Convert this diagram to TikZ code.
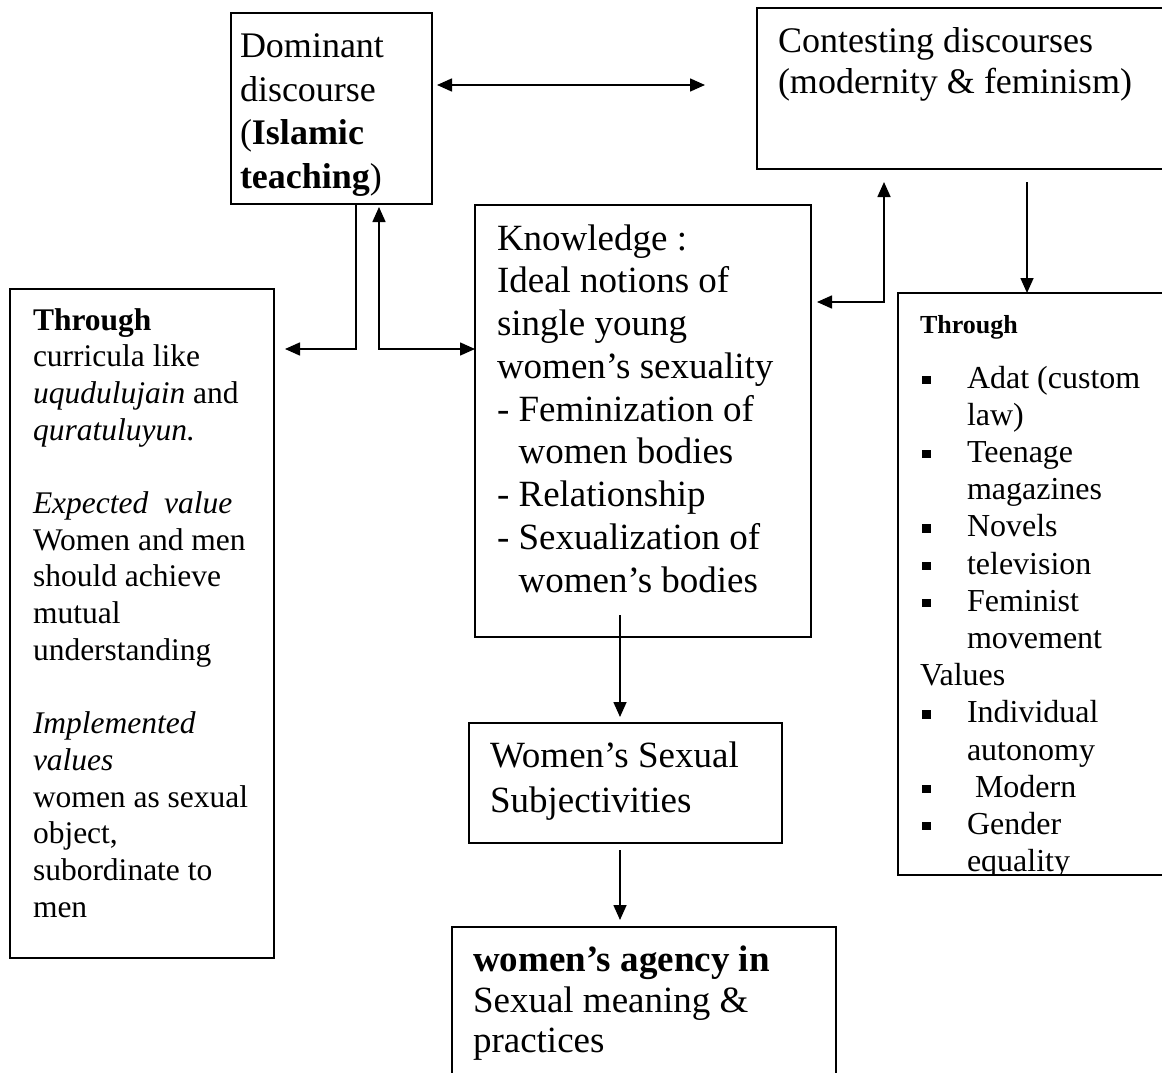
\documentclass[tikz,border=0pt]{standalone}
\usepackage{fontspec}
\setmainfont{Liberation Serif}
\usetikzlibrary{arrows.meta}
\newcommand\rbul{\makebox[47pt][l]{\hspace*{2pt}\rule[4pt]{8.5pt}{8.5pt}}}
\newcommand\rind{\hspace*{47pt}}
\begin{document}
\begin{tikzpicture}[x=1pt,y=-1pt,
  box/.style={draw, line width=1.6pt, inner sep=0pt, outer sep=0pt},
  txt/.style={anchor=north west, inner sep=0pt, outer sep=0pt, align=left},
  conn/.style={line width=1.6pt},
  >={Triangle[length=15pt,width=13pt]}]
\useasboundingbox (0,0) rectangle (1162,1073);
\clip (0,0) rectangle (1162,1073);
% boxes
\node[box, minimum width=201pt, minimum height=191pt] (dom) at (331.5,108.5) {};
\node[box, minimum width=423pt, minimum height=161pt] (con) at (968.5,88.5) {};
\node[box, minimum width=336pt, minimum height=432pt] (know) at (643,421) {};
\node[box, minimum width=264pt, minimum height=669pt] (lbox) at (142,623.5) {};
\node[box, minimum width=282pt, minimum height=582pt] (rbox) at (1039,584) {};
\node[box, minimum width=313pt, minimum height=120pt] (wss) at (625.5,783) {};
\node[box, minimum width=384pt, minimum height=168pt] (agency) at (644,1011) {};
% texts
\node[txt, font=\fontsize{36}{43.5}\selectfont] (domtxt) at (240,27.5)
  {\strut Dominant\\discourse\\(\textbf{Islamic}\\\textbf{teaching})};
\node[txt, font=\fontsize{36}{41}\selectfont] (contxt) at (778,23.3)
  {\strut Contesting discourses\\(modernity \& feminism)};
\node[txt, font=\fontsize{37}{42.75}\selectfont] (knowtxt) at (497,220.1)
  {\strut Knowledge :\\Ideal notions of\\single young\\women’s sexuality\\- Feminization of\\\hspace*{21.6pt}women bodies\\- Relationship\\- Sexualization of\\\hspace*{21.6pt}women’s bodies};
\node[txt, font=\fontsize{37}{45}\selectfont] (wsstxt) at (490,735.5)
  {\strut Women’s Sexual\\Subjectivities};
\node[txt, font=\fontsize{37}{40.5}\selectfont] (agencytxt) at (473,943.6)
  {\strut\textbf{women’s agency in}\\Sexual meaning \&\\practices};
\node[txt, font=\fontsize{31.5}{36.7}\selectfont] (ltxt) at (33,304.3)
  {\strut\textbf{Through}\\curricula like\\\textit{uqudulujain} and\\\textit{quratuluyun.}\\[36.7pt]
   \textit{Expected\ \ value}\\Women and men\\should achieve\\mutual\\understanding\\[36.7pt]
   \textit{Implemented}\\\textit{values}\\women as sexual\\object,\\subordinate to\\men};
\node[txt, font=\fontsize{26}{30}\selectfont] (rthrough) at (920,312)
  {\strut\textbf{Through}};
\begin{scope}
\clip (rbox.north west) rectangle (rbox.south east);
\node[txt, font=\fontsize{32}{37.2}\selectfont] (rtxt) at (920,362)
  {\strut\rbul Adat (custom\\\rind law)\\\rbul Teenage\\\rind magazines\\\rbul Novels\\\rbul television\\\rbul Feminist\\\rind movement\\Values\\\rbul Individual\\\rind autonomy\\\rbul\ Modern\\\rbul Gender\\\rind equality};
\end{scope}
% connectors
\draw[conn, <->] ([shift={(5,-23.5)}]dom.east) -- ([shift={(-52,-3.5)}]con.west);
\draw[conn, ->] ([shift={(24.5,0)}]dom.south) |- ([shift={(11,-274.5)}]lbox.east);
\draw[conn, <->] ([shift={(47.5,3)}]dom.south) |- ([shift={(0,-72)}]know.west);
\draw[conn, <->] ([shift={(6,-119)}]know.east) -| ([shift={(-84.5,13)}]con.south);
\draw[conn, ->] ([shift={(58.5,13)}]con.south) -- ([shift={(-12,0)}]rbox.north);
\draw[conn, ->] ([shift={(-23,-22)}]know.south) -- ([shift={(-5.5,-6)}]wss.north);
\draw[conn, ->] ([shift={(-5.5,7)}]wss.south) -- ([shift={(-24,-7)}]agency.north);
\end{tikzpicture}
\end{document}
